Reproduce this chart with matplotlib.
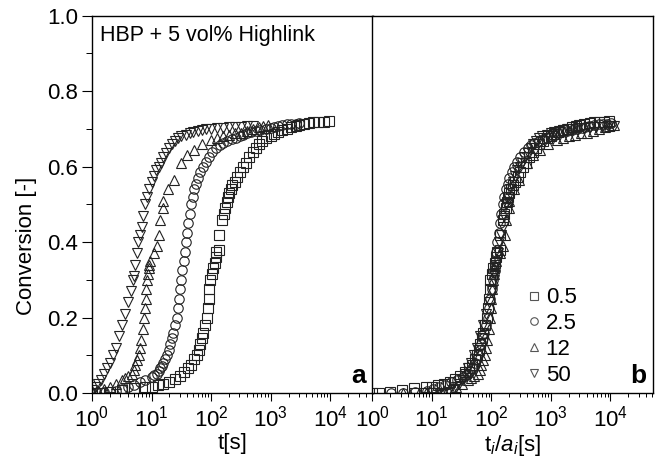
import numpy as np
import matplotlib
matplotlib.use("Agg")
import matplotlib.pyplot as plt
from matplotlib.ticker import LogLocator, NullFormatter, MultipleLocator

plt.rcParams['font.family'] = ['Liberation Sans', 'DejaVu Sans']
plt.rcParams['mathtext.fontset'] = 'custom'
plt.rcParams['mathtext.rm'] = 'Liberation Sans'
plt.rcParams['mathtext.it'] = 'Liberation Sans:italic'

labels = ["0.5", "2.5", "12", "50"]
markers = ["s", "o", "^", "v"]
shift = [1.0, 0.30, 0.079, 0.044]

# series 0.5 (squares)
t_05 = [1.0, 1.3, 2.0, 3.2, 5.0, 7.9, 10, 12.6, 15.8, 20, 24.5, 29.5, 35.5, 41.7, 46.8,
        52.5, 57.5, 61.7, 64.6, 69.2, 72.4, 79.4, 85, 89.1, 91, 93.3, 95.5, 102, 107,
        115, 120, 123, 138, 138, 155, 166, 174, 182, 191, 200, 214, 229, 251, 275,
        302, 339, 380, 437, 501, 562, 631, 724, 851, 1000, 1120, 1320, 1580, 1910,
        2240, 2630, 3020, 3630, 4470, 5250, 6310, 7940, 9550]
y_05 = [0.0, 0.0, 0.003, 0.008, 0.012, 0.015, 0.017, 0.02, 0.025, 0.03, 0.037, 0.045,
        0.055, 0.065, 0.075, 0.09, 0.10, 0.115, 0.13, 0.145, 0.16, 0.18, 0.20, 0.225,
        0.25, 0.275, 0.30, 0.315, 0.33, 0.345, 0.36, 0.373, 0.38, 0.418, 0.458, 0.475,
        0.49, 0.505, 0.52, 0.53, 0.54, 0.55, 0.56, 0.573, 0.586, 0.598, 0.61, 0.625,
        0.64, 0.65, 0.66, 0.668, 0.675, 0.682, 0.687, 0.692, 0.697, 0.701, 0.705,
        0.708, 0.71, 0.713, 0.715, 0.717, 0.718, 0.719, 0.72]

# series 2.5 (circles)
t_25 = [0.63, 1.0, 1.58, 2.5, 3.16, 4.0, 5.0, 6.3, 7.9, 10, 11.2, 12.3, 13.2, 14.1,
        15.1, 15.8, 17.0, 18.2, 19.5, 20.4, 21.9, 22.9, 24.5, 26.3, 27.5, 28.8, 30.2,
        31.6, 33.1, 34.7, 36.3, 38.0, 39.8, 41.7, 44.2, 46.8, 49.5, 52.5, 56.2, 60.3,
        66.1, 72.4, 81.3, 91.2, 105, 123, 141, 158, 186, 224, 263, 302, 347, 398, 468,
        562, 676, 832, 1000, 1120, 1320, 1580, 1910, 2240, 2630, 3020]
y_25 = [0.0, 0.0, 0.002, 0.006, 0.01, 0.015, 0.02, 0.028, 0.035, 0.043, 0.047, 0.05,
        0.057, 0.065, 0.072, 0.08, 0.09, 0.10, 0.115, 0.13, 0.145, 0.16, 0.18, 0.20,
        0.225, 0.25, 0.275, 0.30, 0.325, 0.35, 0.375, 0.40, 0.425, 0.45, 0.475, 0.50,
        0.52, 0.54, 0.555, 0.57, 0.585, 0.60, 0.613, 0.625, 0.638, 0.65, 0.657, 0.662,
        0.668, 0.673, 0.677, 0.68, 0.684, 0.688, 0.692, 0.695, 0.698, 0.70, 0.703,
        0.705, 0.708, 0.71, 0.712, 0.713, 0.714, 0.715]

# series 12 (triangles up)
t_12 = [0.26, 0.63, 1.0, 1.26, 1.58, 2.0, 2.5, 3.16, 3.55, 4.0, 4.68, 5.01, 5.37, 5.75,
        6.17, 6.46, 6.76, 7.08, 7.41, 7.67, 7.94, 8.13, 8.32, 8.61, 8.91, 9.12, 9.33,
        11.2, 12.3, 13.2, 14.1, 15.5, 15.8, 19.1, 23.4, 31.6, 39.8, 52.5, 70.8, 100,
        126, 158, 200, 251, 316, 398, 501, 631, 741, 891]
y_12 = [0.0, 0.0, 0.003, 0.006, 0.01, 0.016, 0.025, 0.035, 0.04, 0.045, 0.05, 0.06,
        0.075, 0.087, 0.10, 0.12, 0.14, 0.17, 0.20, 0.225, 0.25, 0.275, 0.30, 0.315,
        0.33, 0.34, 0.35, 0.37, 0.39, 0.42, 0.458, 0.49, 0.51, 0.54, 0.564, 0.61,
        0.63, 0.644, 0.66, 0.67, 0.675, 0.68, 0.685, 0.688, 0.69, 0.695, 0.70, 0.705,
        0.707, 0.71]

# series 50 (triangles down)
t_50 = [0.22, 0.32, 0.44, 0.63, 0.79, 1.0, 1.12, 1.26, 1.41, 1.58, 1.78, 2.0, 2.24,
        2.51, 2.82, 3.16, 3.55, 3.98, 4.47, 4.8, 5.01, 5.25, 5.62, 6.0, 6.31, 6.8, 7.24,
        7.8, 8.32, 9.1, 10, 11, 12, 13.2, 14.5, 15.8, 17.8, 20, 22.4, 25, 28.2, 31.6,
        38, 43.7, 50, 60, 71, 83, 100, 126, 158, 200, 251, 316, 398, 501]
y_50 = [0.0, 0.0, 0.0, 0.0, 0.0, 0.008, 0.015, 0.025, 0.035, 0.05, 0.065, 0.08, 0.10,
        0.12, 0.15, 0.18, 0.21, 0.24, 0.27, 0.30, 0.31, 0.34, 0.37, 0.40, 0.42, 0.44,
        0.47, 0.50, 0.52, 0.54, 0.56, 0.575, 0.59, 0.60, 0.61, 0.625, 0.635, 0.65,
        0.66, 0.668, 0.675, 0.68, 0.685, 0.69, 0.692, 0.695, 0.697, 0.70, 0.70, 0.702,
        0.703, 0.704, 0.705, 0.706, 0.707, 0.708]

series_t = [t_05, t_25, t_12, t_50]
series_y = [y_05, y_25, y_12, y_50]

fig = plt.figure(figsize=(6.59, 4.70), dpi=100)
axa = fig.add_axes([92/659, 77/470, 281/659, 377.3/470])
axb = fig.add_axes([372.3/659, 77/470, 281/659, 377.3/470])

mk = dict(linestyle='none', markerfacecolor='none', markeredgecolor='#222222',
          markeredgewidth=0.8)

for t, y, m, lab, a in zip(series_t, series_y, markers, labels, shift):
    ms = 7.5 if m in ('^', 'v') else 6.8
    axa.plot(t, y, marker=m, markersize=ms, **mk)
    tb = np.asarray(t) / a
    axb.plot(tb, y, marker=m, markersize=ms, label=lab, **mk)

for ax in (axa, axb):
    ax.set_xscale('log')
    ax.set_xlim(1, 10**4.72)
    ax.set_ylim(0, 1.0)
    ax.xaxis.set_major_locator(LogLocator(base=10, numticks=10))
    ax.xaxis.set_minor_locator(LogLocator(base=10, subs=np.arange(2, 10), numticks=20))
    ax.xaxis.set_minor_formatter(NullFormatter())
    ax.tick_params(axis='x', which='major', direction='out', length=6, width=0.8,
                   labelsize=16, pad=3)
    ax.tick_params(axis='x', which='minor', direction='out', length=3, width=0.7)
    for s in ax.spines.values():
        s.set_linewidth(1.0)

axa.set_yticks([0, 0.2, 0.4, 0.6, 0.8, 1.0])
axa.set_yticklabels(["0.0", "0.2", "0.4", "0.6", "0.8", "1.0"])
axa.yaxis.set_minor_locator(MultipleLocator(0.1))
axa.tick_params(axis='y', which='major', direction='out', length=7, width=0.8,
                labelsize=16, pad=3)
axa.tick_params(axis='y', which='minor', direction='out', length=4, width=0.7)
axb.tick_params(axis='y', which='both', left=False, labelleft=False)

axa.set_ylabel("Conversion [-]", fontsize=16)
axa.yaxis.set_label_coords(-0.195, 0.39)
axa.set_xlabel("t[s]", fontsize=16, labelpad=1)
axb.set_xlabel(r"t$_i$/$a_i$[s]", fontsize=16, labelpad=1)

axa.text(0.028, 0.975, "HBP + 5 vol% Highlink", transform=axa.transAxes,
         ha='left', va='top', fontsize=15.5)
axa.text(0.975, 0.012, "a", transform=axa.transAxes, ha='right', va='bottom',
         fontsize=19, fontweight='bold')
axb.text(0.975, 0.012, "b", transform=axb.transAxes, ha='right', va='bottom',
         fontsize=19, fontweight='bold')

leg = axb.legend(loc='upper left', bbox_to_anchor=(0.55, 0.28), frameon=False,
                 fontsize=16, handlelength=0.6, handletextpad=0.25, labelspacing=0.22,
                 markerscale=0.8, borderpad=0.0, borderaxespad=0.0)
for h in leg.legend_handles:
    h.set_markeredgecolor('#555555')

fig.savefig("out.png", dpi=100)
